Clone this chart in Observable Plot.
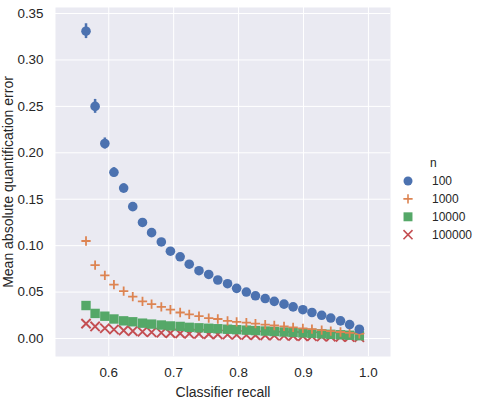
<!DOCTYPE html>
<html><head><meta charset="utf-8">
<script src="https://cdn.jsdelivr.net/npm/d3@7"></script>
<script src="https://cdn.jsdelivr.net/npm/@observablehq/plot@0.6"></script>
<style>
body{margin:0;background:#fff;font-family:"Liberation Sans",Arial,sans-serif;}
#wrap{position:relative;width:477px;height:406px;overflow:hidden;}
#legend{position:absolute;left:395px;top:148px;}
</style></head><body><div id="wrap"><div id="chart"></div><div id="legend"></div></div>
<script>
const recall = [0.565,0.579,0.594,0.608,0.623,0.637,0.652,0.666,0.681,0.695,0.710,0.724,0.739,0.754,0.768,0.783,0.797,0.812,0.826,0.841,0.855,0.870,0.884,0.899,0.913,0.928,0.942,0.957,0.971,0.986];
const mae100 = [0.331,0.250,0.210,0.179,0.162,0.142,0.125,0.114,0.104,0.094,0.088,0.080,0.073,0.069,0.063,0.059,0.054,0.050,0.046,0.043,0.040,0.037,0.034,0.031,0.028,0.025,0.022,0.019,0.015,0.010];
const err100 = [0.008,0.0075,0.006,0.005,0.0045,0.004,0.0035,0.003,0.003,0.003,0.0025,0.0025,0.0025,0.002,0.002,0.002,0.002,0.002,0.002,0.002,0.002,0.002,0.002,0.002,0.002,0.002,0.002,0.002,0.002,0.002];
const mae1000 = [0.105,0.079,0.068,0.058,0.051,0.045,0.040,0.037,0.034,0.031,0.028,0.026,0.024,0.022,0.021,0.019,0.018,0.017,0.016,0.015,0.014,0.013,0.012,0.011,0.010,0.009,0.008,0.007,0.006,0.005];
const mae10000 = [0.0355,0.027,0.024,0.021,0.019,0.018,0.0165,0.0155,0.0145,0.0135,0.013,0.012,0.0115,0.011,0.0105,0.010,0.0095,0.009,0.0085,0.008,0.0075,0.007,0.0065,0.006,0.0055,0.005,0.0045,0.004,0.0035,0.003];
const mae100000 = [0.016,0.013,0.011,0.0097,0.0087,0.008,0.0073,0.0067,0.0062,0.0058,0.0055,0.0052,0.005,0.0047,0.0045,0.0043,0.004,0.0038,0.0036,0.0034,0.0032,0.003,0.0028,0.0026,0.0024,0.0022,0.002,0.0018,0.0016,0.0014];
const nLabels = ["100","1000","10000","100000"];
const xTicks = [0.6,0.7,0.8,0.9,1.0];
const yTicks = [0,0.05,0.10,0.15,0.20,0.25,0.30,0.35];
const colors = ["#4C72B0","#DD8452","#55A868","#C44E52"];

const series = [mae100, mae1000, mae10000, mae100000];
const rows = n => recall.map((r,i) => ({recall: r, mae: series[n][i], err: n===0 ? err100[i] : 0}));

const chart = Plot.plot({
  width: 395, height: 406,
  marginLeft: 55, marginRight: 5, marginTop: 7, marginBottom: 50,
  style: {fontFamily: '"Liberation Sans", Arial, sans-serif', fontSize: "13.4px", color: "#262626", background: "transparent"},
  x: {domain: [0.518, 1.034], label: null},
  y: {domain: [-0.0194, 0.3565], label: null},
  marks: [
    Plot.frame({fill: "#EAEAF2", stroke: null}),
    Plot.gridX(xTicks, {stroke: "white", strokeOpacity: 1, strokeWidth: 1}),
    Plot.gridY(yTicks, {stroke: "white", strokeOpacity: 1, strokeWidth: 1}),
    Plot.axisX({ticks: xTicks, tickFormat: d3.format(".1f"), tickSize: 0, tickPadding: 11, label: "Classifier recall", labelAnchor: "center", labelOffset: 40, labelArrow: "none"}),
    Plot.axisY({ticks: yTicks, tickFormat: d3.format(".2f"), tickSize: 0, tickPadding: 12, label: "Mean absolute quantification error", labelAnchor: "center", labelOffset: 52, labelArrow: "none"}),
    Plot.ruleX(rows(0), {x: "recall", y1: d => d.mae - d.err, y2: d => d.mae + d.err, stroke: colors[0], strokeWidth: 2.5}),
    Plot.dot(rows(3), {x: "recall", y: "mae", symbol: "times", r: 4.3, stroke: colors[3], strokeWidth: 1.9}),
    Plot.dot(rows(2), {x: "recall", y: "mae", symbol: "square", r: 5.3, fill: colors[2], stroke: null}),
    Plot.dot(rows(1), {x: "recall", y: "mae", symbol: "plus", r: 3.1, stroke: colors[1], strokeWidth: 1.8}),
    Plot.dot(rows(0), {x: "recall", y: "mae", symbol: "circle", r: 4.8, fill: colors[0], stroke: null})
  ]
});
d3.select(chart).selectAll("[aria-label='x-axis label'] text, [aria-label='y-axis label'] text").style("font-size", "14px");
document.getElementById("chart").appendChild(chart);

// legend
const lg = d3.select("#legend").append("svg").attr("width", 82).attr("height", 100)
  .style("font-family", '"Liberation Sans", Arial, sans-serif').style("font-size", "12px");
lg.append("text").attr("x", 35).attr("y", 19).attr("fill", "#262626").text("n");
const syms = [
  {type: d3.symbolCircle, size: Math.PI*4.5*4.5, fill: colors[0], stroke: "none"},
  {type: d3.symbolPlus, size: 30, fill: "none", stroke: colors[1]},
  {type: d3.symbolSquare, size: 80, fill: colors[2], stroke: "none"},
  {type: d3.symbolTimes, size: 55, fill: "none", stroke: colors[3]}
];
nLabels.forEach((lab, i) => {
  const y = 33 + i * 17.9;
  lg.append("path").attr("transform", `translate(13,${y})`)
    .attr("d", d3.symbol(syms[i].type, syms[i].size)())
    .attr("fill", syms[i].fill).attr("stroke", syms[i].stroke).attr("stroke-width", 1.6);
  lg.append("text").attr("x", 37).attr("y", y + 4.3).attr("fill", "#262626").text(lab);
});
</script>
</body></html>
